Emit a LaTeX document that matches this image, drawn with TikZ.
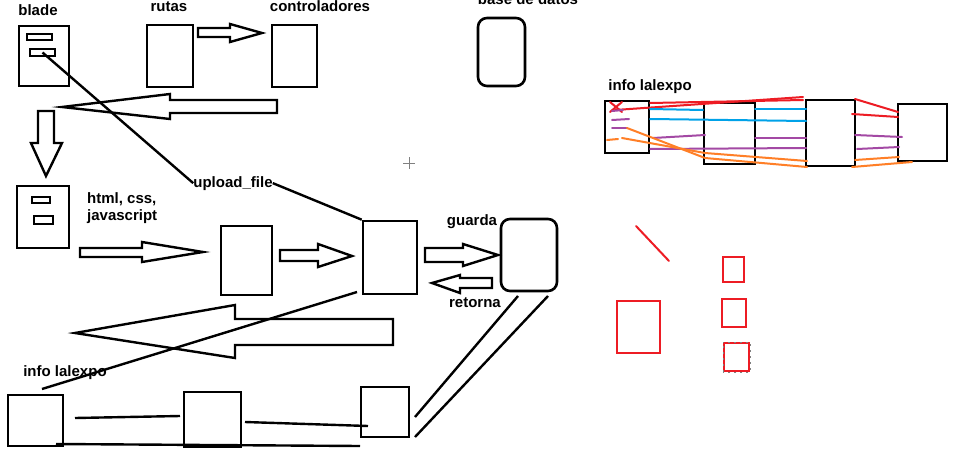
\documentclass[tikz,border=0pt]{standalone}
\usepackage{fontspec}
\setmainfont{Liberation Sans}
\definecolor{pred}{HTML}{ED1C24}
\definecolor{pblue}{HTML}{00A2E8}
\definecolor{ppurple}{HTML}{A349A4}
\definecolor{porange}{HTML}{FF7F27}

\begin{document}
\begin{tikzpicture}[x=1pt,y=-1pt,
    box/.style={draw,line width=2.6pt,inner sep=0pt},
    slot/.style={draw,line width=2pt,inner sep=0pt},
    dbbox/.style={box,rounded corners=9pt},
    redbox/.style={draw=pred,line width=2.4pt,inner sep=0pt},
    lbl/.style={inner sep=0pt,font=\bfseries\fontsize{15}{17}\selectfont},
    hollow/.style={draw,line width=2.4pt,line join=miter},
    wire/.style={line width=2.4pt},
    pen/.style={line width=2pt,line cap=round}]
    \useasboundingbox[fill=white] (0,0) rectangle (959,458);

    \node[box,minimum width=50,minimum height=60] (blade) at (44,56) {};
    \node[slot,minimum width=25,minimum height=6] (bladeA) at (39.5,36.5) {};
    \node[slot,minimum width=25,minimum height=7] (bladeB) at (42.5,52.5) {};
    \node[box,minimum width=46,minimum height=62] (rutas) at (170,56) {};
    \node[box,minimum width=45,minimum height=62] (ctrl) at (294.5,56) {};
    \node[dbbox,minimum width=47,minimum height=68] (dbtop) at (501.5,52) {};

    \node[lbl,anchor=base] (tblade) at (38,15) {blade};
    \node[lbl,anchor=base] (trutas) at (169,11) {rutas};
    \node[lbl,anchor=base] (tctrl) at (320,11) {controladores};
    \node[lbl,anchor=base] (tdb) at (528,4) {base de datos};

    \draw[hollow] (198,28) -- (230,28) -- (230,24) -- (262,33) -- (230,42) -- (230,37) -- (198,37) -- cycle;
    \draw[hollow] (277,100) -- (170,100) -- (170,94) -- (62,107) -- (170,119) -- (170,113) -- (277,113) -- cycle;
    \draw[hollow] (38,111) -- (54,111) -- (54,143) -- (62,143) -- (46,176) -- (31,143) -- (38,143) -- cycle;

    \node[box,minimum width=52,minimum height=62] (vista) at (43,217) {};
    \node[slot,minimum width=18,minimum height=6] (vistaA) at (41,199.5) {};
    \node[slot,minimum width=19,minimum height=8] (vistaB) at (43.5,220) {};
    \node[lbl,anchor=base west] (thtml) at (87,203) {html, css,};
    \node[lbl,anchor=base west] (tjs) at (87,220) {javascript};

    \node[box,minimum width=51,minimum height=69] (mid) at (246.5,260.5) {};
    \node[box,minimum width=54,minimum height=73] (central) at (390,257.5) {};
    \node[dbbox,minimum width=56,minimum height=72] (db) at (529,255) {};
    \node[lbl,anchor=base] (upload) at (233,187) {upload\_file};
    \node[lbl,anchor=base] (tguarda) at (472,225) {guarda};
    \node[lbl,anchor=base] (tretorna) at (475,307) {retorna};

    \draw[wire] (bladeB.center) -- (upload.west);
    \draw[wire] (upload.east) -- (central.north west);

    \draw[hollow] (80,248) -- (142,248) -- (142,242) -- (203,252) -- (142,262) -- (142,257) -- (80,257) -- cycle;
    \draw[hollow] (280,250) -- (318,250) -- (318,244) -- (352,256) -- (318,267) -- (318,261) -- (280,261) -- cycle;
    \draw[hollow] (425,248) -- (463,248) -- (463,244) -- (498,255) -- (463,266) -- (463,262) -- (425,262) -- cycle;
    \draw[hollow] (492,278) -- (460,278) -- (460,275) -- (432,283) -- (460,293) -- (460,288) -- (492,288) -- cycle;
    \draw[hollow] (393,319) -- (235,319) -- (235,305) -- (75,333) -- (235,358) -- (235,345) -- (393,345) -- cycle;

    \node[box,minimum width=55,minimum height=51] (info1) at (35.5,420.5) {};
    \node[box,minimum width=57,minimum height=55] (info2) at (212.5,419.5) {};
    \node[box,minimum width=48,minimum height=50] (info3) at (385,412) {};
    \node[lbl,anchor=base] (tinfo) at (65,376) {info lalexpo};

    \coordinate (c1) at (357,292);
    \coordinate (c2) at (42,389);
    \coordinate (l1a) at (75,418);
    \coordinate (l1b) at (180,416);
    \coordinate (l2a) at (245,422);
    \coordinate (l2b) at (368,426);
    \coordinate (l3a) at (56,444);
    \coordinate (l3b) at (360,446);
    \coordinate (d1a) at (415,417);
    \coordinate (d1b) at (518,296);
    \coordinate (d2a) at (415,437);
    \coordinate (d2b) at (548,296);
    \draw[wire] (c1) -- (c2);
    \draw[wire] (l1a) -- (l1b);
    \draw[wire] (l2a) -- (l2b);
    \draw[wire] (l3a) -- (l3b);
    \draw[wire] (d1a) -- (d1b);
    \draw[wire] (d2a) -- (d2b);

    \draw[gray,line width=1pt] (403,163) -- (415,163) (409,157) -- (409,169);

    \node[lbl,anchor=base] (tinfoR) at (650,90) {info lalexpo};
    \node[box,minimum width=44,minimum height=52] (infoA) at (627,127) {};
    \node[box,minimum width=51,minimum height=61] (infoB) at (729.5,133.5) {};
    \node[box,minimum width=49,minimum height=66] (infoC) at (830.5,133) {};
    \node[box,minimum width=49,minimum height=57] (infoD) at (922.5,132.5) {};

    \draw[pen,pred] (610,102) -- (622,112) (610,112) -- (622,102);
    \draw[pen,pred] (615,110) -- (803,97);
    \draw[pen,pred] (650,103) -- (803,100);
    \draw[pen,pred] (855,99) -- (898,112);
    \draw[pen,pred] (852,114) -- (898,117);
    \draw[pen,pblue] (650,109) -- (703,110);
    \draw[pen,pblue] (755,109) -- (806,109);
    \draw[pen,pblue] (650,119) -- (806,121);
    \draw[pen,ppurple] (612,111) -- (623,110);
    \draw[pen,ppurple] (612,120) -- (629,119);
    \draw[pen,ppurple] (612,128) -- (627,128);
    \draw[pen,ppurple] (653,138) -- (705,135);
    \draw[pen,ppurple] (650,149) -- (806,148);
    \draw[pen,ppurple] (755,138) -- (806,138);
    \draw[pen,ppurple] (855,135) -- (902,137);
    \draw[pen,ppurple] (857,149) -- (899,147);
    \draw[pen,porange] (607,140) -- (618,139);
    \draw[pen,porange] (622,138) -- (705,153) -- (807,161);
    \draw[pen,porange] (627,128) -- (705,158) -- (807,167);
    \draw[pen,porange] (855,160) -- (899,157);
    \draw[pen,porange] (852,167) -- (912,162);

    \draw[pen,pred] (636,226) -- (669,261);
    \node[redbox,minimum width=43,minimum height=52] (rbig) at (638.5,327) {};
    \node[redbox,minimum width=21,minimum height=25] (rs1) at (733.5,269.5) {};
    \node[redbox,minimum width=24,minimum height=28] (rs2) at (734,313) {};
    \node[redbox,minimum width=25,minimum height=28] (rs3) at (736.5,357) {};
    \draw[gray,line width=0.6pt,dash pattern=on 2pt off 4pt] (rs3.south west) rectangle (rs3.north east);
\end{tikzpicture}
\end{document}
